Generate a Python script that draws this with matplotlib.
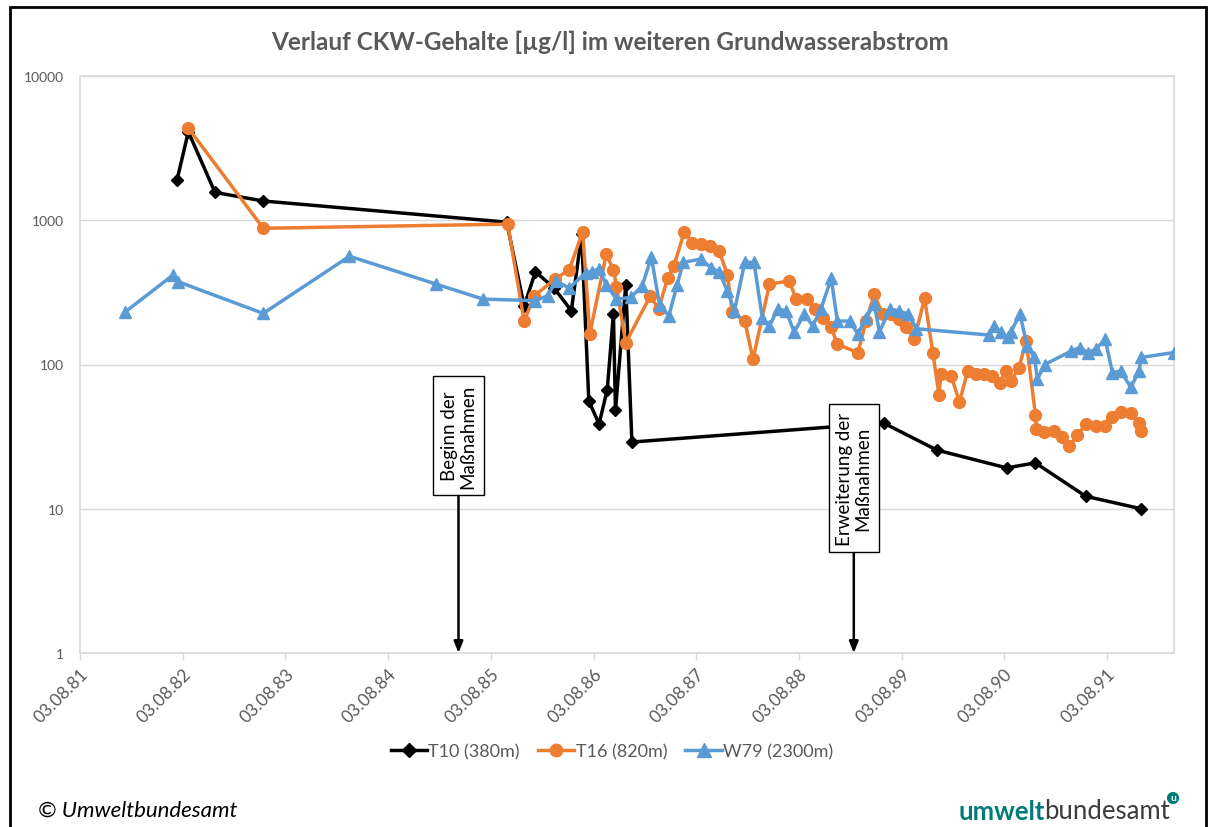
import datetime as dt
import matplotlib
matplotlib.use("Agg")
import matplotlib.pyplot as plt
from matplotlib.patches import Rectangle
from matplotlib.lines import Line2D
from matplotlib.text import Annotation

# ---------------- data (decimal years, µg/l) ----------------
t10_years = [1982.53, 1982.64, 1982.90, 1983.37, 1985.74, 1985.91, 1986.02, 1986.20,
             1986.37, 1986.47, 1986.54, 1986.64, 1986.72, 1986.78, 1986.80, 1986.90,
             1986.96, 1989.41, 1989.93, 1990.61, 1990.89, 1991.38, 1991.92]
t10_values = [1910, 4100, 1560, 1360, 970, 254, 440, 340,
              236, 800, 56, 38.7, 67, 225, 48, 355,
              29, 39.3, 25.5, 19.2, 20.8, 12.2, 10]

t16_years = [1982.64, 1983.37, 1985.75, 1985.91, 1986.01, 1986.21, 1986.35, 1986.48,
             1986.55, 1986.71, 1986.78, 1986.81, 1986.90, 1987.14, 1987.22, 1987.31,
             1987.37, 1987.47, 1987.55, 1987.63, 1987.72, 1987.81, 1987.89, 1987.94,
             1988.06, 1988.14, 1988.30, 1988.49, 1988.56, 1988.66, 1988.74, 1988.82,
             1988.90, 1988.96, 1989.16, 1989.24, 1989.32, 1989.40, 1989.48, 1989.56,
             1989.63, 1989.71, 1989.81, 1989.89, 1989.95, 1989.97, 1990.07, 1990.15,
             1990.23, 1990.31, 1990.39, 1990.47, 1990.54, 1990.60, 1990.65, 1990.73,
             1990.80, 1990.89, 1990.90, 1990.97, 1991.07, 1991.15, 1991.22, 1991.30,
             1991.38, 1991.48, 1991.57, 1991.64, 1991.72, 1991.82, 1991.90, 1991.92]
t16_values = [4350, 880, 940, 200, 300, 390, 455, 830,
              163, 580, 455, 345, 141, 300, 242, 400,
              485, 825, 700, 685, 665, 615, 420, 230,
              200, 109, 360, 380, 285, 285, 242, 211,
              181, 138, 121, 200, 307, 223, 223, 207,
              181, 150, 287, 121, 61.6, 86, 83, 55,
              90, 86, 86, 83, 74, 90, 77, 95,
              146, 45, 35.7, 33.8, 34.6, 31.3, 27.4, 32.2,
              38.7, 37.6, 37.6, 43, 47, 46, 39.6, 34.6]

w79_years = [1982.02, 1982.49, 1982.54, 1983.37, 1984.21, 1985.05, 1985.51, 1986.02,
             1986.14, 1986.22, 1986.35, 1986.51, 1986.57, 1986.64, 1986.71, 1986.81,
             1986.95, 1987.06, 1987.15, 1987.23, 1987.32, 1987.40, 1987.46, 1987.63,
             1987.73, 1987.81, 1987.89, 1987.96, 1988.06, 1988.15, 1988.23, 1988.30,
             1988.38, 1988.46, 1988.54, 1988.64, 1988.72, 1988.80, 1988.90, 1988.96,
             1989.08, 1989.16, 1989.24, 1989.32, 1989.37, 1989.47, 1989.56, 1989.65,
             1989.73, 1990.44, 1990.49, 1990.55, 1990.62, 1990.65, 1990.74, 1990.81,
             1990.88, 1990.91, 1990.98, 1991.24, 1991.32, 1991.40, 1991.48, 1991.57,
             1991.64, 1991.72, 1991.82, 1991.90, 1991.92, 1992.24]
w79_values = [230, 417, 375, 226, 563, 361, 284, 277,
              300, 380, 338, 434, 440, 460, 357, 284,
              292, 350, 555, 258, 217, 355, 510, 538,
              470, 437, 325, 236, 510, 510, 211, 185,
              242, 236, 168, 224, 185, 242, 395, 200,
              200, 162, 211, 262, 168, 242, 236, 223,
              177, 160, 185, 168, 155, 168, 223, 134,
              112, 79, 100, 124, 131, 121, 128, 150,
              88, 90, 69.5, 90, 112, 121]

series_labels = ["T10 (380m)", "T16 (820m)", "W79 (2300m)"]
title_text = "Verlauf CKW-Gehalte [µg/l] im weiteren Grundwasserabstrom"
annot_texts = ["Beginn der\nMaßnahmen", "Erweiterung der\nMaßnahmen"]
annot_years = [1985.27, 1989.12]
annot_text_values = [32.2, 16.3]
tick_years = list(range(1981, 1992))
x_min_year, x_max_year = 1981.586, 1992.24
y_ticks = [1, 10, 100, 1000, 10000]


def to_date(y):
    year = int(y)
    start = dt.datetime(year, 1, 1)
    end = dt.datetime(year + 1, 1, 1)
    return start + (end - start) * (y - year)


def dates(lst):
    return [to_date(v) for v in lst]


plt.rcParams['font.family'] = ['Lato', 'DejaVu Sans']
GRAY = '#595959'
GRID = '#D9D9D9'
ORANGE = '#ED7D31'
BLUE = '#5B9BD5'
TEAL = '#007B78'

fig = plt.figure(figsize=(12.11, 8.28), dpi=100)
ax = fig.add_axes([80.2 / 1211, 1 - 654 / 828, (1174 - 80.2) / 1211, (654 - 77) / 828])

ax.plot(dates(t10_years), t10_values, color='black', lw=2.5, marker='D', ms=6.5,
        label=series_labels[0], zorder=3)
ax.plot(dates(t16_years), t16_values, color=ORANGE, lw=2.5, marker='o', ms=8.5,
        label=series_labels[1], zorder=4)
ax.plot(dates(w79_years), w79_values, color=BLUE, lw=2.5, marker='^', ms=9,
        label=series_labels[2], zorder=5)

ax.set_yscale('log')
ax.set_ylim(1, 10000)
ax.set_yticks(y_ticks)
ax.set_yticklabels([str(v) for v in y_ticks])
ax.yaxis.set_minor_locator(matplotlib.ticker.NullLocator())
ax.set_xlim(to_date(x_min_year), to_date(x_max_year))
xt = [dt.datetime(y, 8, 3) for y in tick_years]
ax.set_xticks(xt)
ax.set_xticklabels([d.strftime('%d.%m.%y') for d in xt], rotation=45, ha='right',
                   rotation_mode='anchor')
ax.grid(axis='y', color=GRID, lw=1)
ax.set_axisbelow(True)
for s in ax.spines.values():
    s.set_color(GRID)
    s.set_linewidth(1.2)
ax.tick_params(axis='x', colors=GRID, labelcolor=GRAY, labelsize=12.5,
               length=5, width=1, pad=4)
ax.tick_params(axis='y', length=0, labelcolor=GRAY, labelsize=10, pad=12)

for txt, yr, tv in zip(annot_texts, annot_years, annot_text_values):
    ax.annotate(txt, xy=(to_date(yr), 1.0), xytext=(to_date(yr), tv),
                ha='center', va='center', rotation=90, fontsize=13.5, color='black',
                linespacing=1.1,
                bbox=dict(boxstyle='square,pad=0.4', fc='white', ec='black', lw=1),
                arrowprops=dict(arrowstyle='-|>,head_length=0.5,head_width=0.2',
                                color='black', lw=1.8, shrinkA=0, shrinkB=0),
                zorder=6)

fig.text(610 / 1211, 1 - 42 / 828, title_text, ha='center', va='center',
         fontsize=17.5, fontweight='bold', color=GRAY)

handles = [Line2D([], [], color='black', lw=2.5, marker='D', ms=7.5),
           Line2D([], [], color=ORANGE, lw=2.5, marker='o', ms=9),
           Line2D([], [], color=BLUE, lw=2.5, marker='^', ms=9.5)]
fig.legend(handles, series_labels, loc='center', bbox_to_anchor=(612 / 1211, 1 - 752 / 828),
           ncol=3, frameon=False, fontsize=13, labelcolor=GRAY, handlelength=2.0,
           handletextpad=0.1, columnspacing=1.0)

fig.text(38 / 1211, 1 - 811 / 828, "© Umweltbundesamt", ha='left', va='center',
         fontsize=16, fontstyle='italic', color='black')

t1 = fig.text(958 / 1211, 1 - 820 / 828, "umwelt", ha='left', va='baseline',
              fontsize=18.5, fontweight='bold', color=TEAL)
ann = Annotation("bundesamt", xy=(1, 0), xycoords=t1, ha='left', va='bottom',
                 fontsize=18.5, color='#3C3C3C')
fig.add_artist(ann)
fig.text(1173 / 1211, 1 - 799 / 828, "u", ha='center', va='center', fontsize=7.5,
         fontweight='bold', color='white',
         bbox=dict(boxstyle='circle,pad=0.15', fc=TEAL, ec='none'))

fig.add_artist(Rectangle((10 / 1211, -0.05), (1206 - 10) / 1211, 1.05 - 8 / 828,
                         transform=fig.transFigure, fill=False, ec='black', lw=2))

fig.savefig('out.png', dpi=100)
